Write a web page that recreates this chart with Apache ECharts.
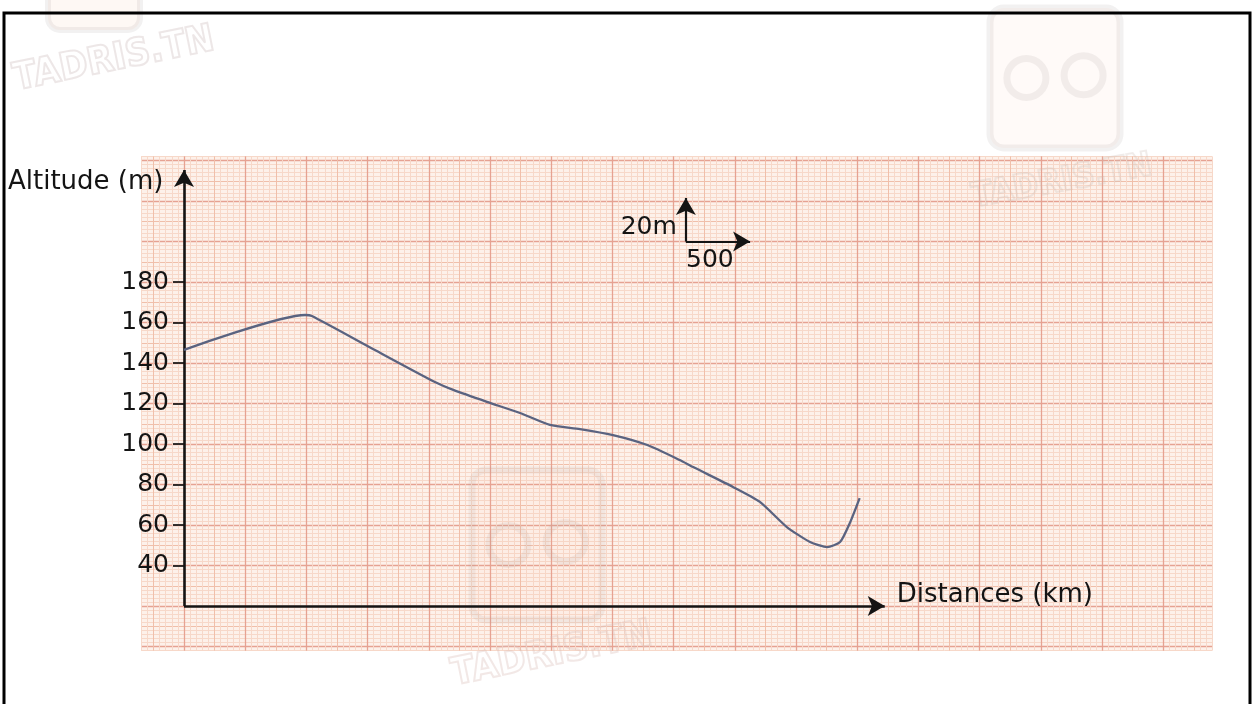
<!DOCTYPE html>
<html>
<head>
<meta charset="utf-8">
<style>
  html, body { margin: 0; padding: 0; background: #ffffff; }
  #chart { width: 1254px; height: 704px; }
</style>
<script src="https://cdn.jsdelivr.net/npm/echarts@6/dist/echarts.min.js"></script>
</head>
<body>
<div id="chart"></div>
<script>
// ---------------- data ----------------
const distances = [0, 990, 1045, 1560, 2050, 2200, 2475, 2745, 2990, 3235, 3505, 3785, 4050, 4160, 4485, 4705, 4925, 5115, 5255, 5360, 5440, 5520];
const altitudes = [146.5, 163.7, 163.2, 146.4, 130.6, 126.7, 120.8, 115.3, 109.4, 107.4, 104.4, 99.5, 92.1, 88.6, 78.8, 71.4, 59.0, 51.6, 49.1, 51.6, 61.0, 73.3];
const altitudeTicks = [40, 60, 80, 100, 120, 140, 160, 180];
const yAxisTitle = 'Altitude (m)';
const xAxisTitle = 'Distances (km)';
const scaleLabelY = '20m';
const scaleLabelX = '500';

// ---------------- layout ----------------
const ORIGIN_X = 184;      // pixel of distance 0
const ORIGIN_Y = 606;      // pixel of altitude 20
const BASE_ALT = 20;
const PX_PER_KM = 61.2 / 500;
const PX_PER_M = 40.5 / 20;
const FONT = 'DejaVu Sans';
const INK = '#141414';

function gridFor(xmin, xmax, ymin, ymax) {
  return {
    left: ORIGIN_X + xmin * PX_PER_KM,
    width: (xmax - xmin) * PX_PER_KM,
    top: ORIGIN_Y - (ymax - BASE_ALT) * PX_PER_M,
    height: (ymax - ymin) * PX_PER_M
  };
}

const PAPER = { xmin: -350, xmax: 8400, ymin: -2, ymax: 242 };
const C_PAPER = '#fdf1ea', C_MINOR = '#f7d8c9', C_MED = '#f0bfaa', C_MAJOR = '#e6a292';

const hiddenX = (g, a, b) => ({ type: 'value', gridIndex: g, min: a, max: b, show: false });
const hiddenY = (g, a, b) => ({ type: 'value', gridIndex: g, min: a, max: b, show: false });
const splitAxis = (g, a, b, step, color, w) => ({
  type: 'value', gridIndex: g, min: a, max: b, interval: step,
  axisLine: { show: false }, axisTick: { show: false }, axisLabel: { show: false },
  splitLine: { show: true, lineStyle: { color: color, width: w } }
});

const grids = [
  Object.assign(gridFor(PAPER.xmin, PAPER.xmax, PAPER.ymin, PAPER.ymax), { show: true, backgroundColor: C_PAPER, borderWidth: 0 }),
  gridFor(-250, 8250, PAPER.ymin, PAPER.ymax),
  gridFor(0, 8000, PAPER.ymin, PAPER.ymax),
  gridFor(PAPER.xmin, PAPER.xmax, 0, 240),
  gridFor(PAPER.xmin, PAPER.xmax, 0, 240),
  gridFor(0, 1000, altitudeTicks[0], altitudeTicks[altitudeTicks.length - 1])
];

const xAxes = [
  splitAxis(0, PAPER.xmin, PAPER.xmax, 50, C_MINOR, 1),
  splitAxis(1, -250, 8250, 250, C_MED, 1),
  splitAxis(2, 0, 8000, 500, C_MAJOR, 1.3),
  hiddenX(3, PAPER.xmin, PAPER.xmax),
  hiddenX(4, PAPER.xmin, PAPER.xmax),
  hiddenX(5, 0, 1000)
];
const yAxes = [
  splitAxis(0, PAPER.ymin, PAPER.ymax, 2, C_MINOR, 1),
  hiddenY(1, PAPER.ymin, PAPER.ymax),
  hiddenY(2, PAPER.ymin, PAPER.ymax),
  splitAxis(3, 0, 240, 10, C_MED, 1),
  splitAxis(4, 0, 240, 20, C_MAJOR, 1.3),
  {
    type: 'value', gridIndex: 5, min: altitudeTicks[0], max: altitudeTicks[altitudeTicks.length - 1], interval: 20,
    position: 'left',
    axisLine: { show: false },
    splitLine: { show: false },
    axisTick: { show: true, length: 11, lineStyle: { color: INK, width: 1.7 } },
    axisLabel: { show: true, margin: 15, color: INK, fontSize: 25, fontFamily: FONT }
  }
];

// annotation anchors (data coords)
const Y_ARROW_END = 235.3;
const X_ARROW_END = 5725;
const SCALE_ORIGIN = [4100, 200];
const SCALE_UP_END = 221.5;
const SCALE_RIGHT_END = 4625;

const curve = distances.map((d, i) => [d, altitudes[i]]);

const option = {
  animation: false,
  backgroundColor: '#ffffff',
  grid: grids,
  xAxis: xAxes,
  yAxis: yAxes,
  series: [{
    type: 'line',
    xAxisIndex: 0, yAxisIndex: 0,
    data: curve,
    smooth: 0.2,
    showSymbol: false,
    symbol: 'none',
    z: 5,
    lineStyle: { color: '#5a6380', width: 2.3 },
    markLine: {
      silent: true,
      symbol: ['none', 'arrow'],
      symbolSize: [15, 17],
      label: { show: false },
      lineStyle: { color: INK, width: 2.6, type: 'solid' },
      data: [
        [{ coord: [0, BASE_ALT] }, { coord: [0, Y_ARROW_END] }],
        [{ coord: [0, BASE_ALT] }, { coord: [X_ARROW_END, BASE_ALT] }],
        [{ coord: SCALE_ORIGIN, lineStyle: { width: 2.2, color: INK } }, { coord: [SCALE_ORIGIN[0], SCALE_UP_END] }],
        [{ coord: SCALE_ORIGIN, lineStyle: { width: 2.2, color: INK } }, { coord: [SCALE_RIGHT_END, SCALE_ORIGIN[1]] }]
      ]
    }
  }]
};

const chart = echarts.init(document.getElementById('chart'), null, { renderer: 'canvas' });
chart.setOption(option);

const px = p => chart.convertToPixel({ xAxisIndex: 0, yAxisIndex: 0 }, p);
const so = px(SCALE_ORIGIN);
const xEnd = px([X_ARROW_END, BASE_ALT]);
const yEnd = px([0, Y_ARROW_END]);

const txt = (x, y, text, align, size) => ({
  type: 'text', x: x, y: y, silent: true, z: 20,
  style: { text: text, fill: INK, fontSize: size, fontFamily: FONT, align: align, verticalAlign: 'middle' }
});

const wm = (x, y, rot, color, size) => ({
  type: 'text', x: x, y: y, rotation: rot, silent: true, z: 1,
  style: { text: 'TADRIS.TN', fill: 'none', stroke: color, lineWidth: 2, fontSize: size, fontWeight: 'bold', fontFamily: 'DejaVu Sans Condensed', align: 'center', verticalAlign: 'middle' }
});

const logo = (x, y, w, h, alpha) => ({
  type: 'group', x: x, y: y, silent: true, z: 1,
  children: [
    { type: 'rect', shape: { x: 0, y: 0, width: w, height: h, r: 14 }, style: { fill: 'rgba(248,190,150,' + (alpha * 0.6) + ')', stroke: 'rgba(150,140,140,' + alpha + ')', lineWidth: 7 } },
    { type: 'circle', shape: { cx: w * 0.28, cy: h * 0.5, r: w * 0.15 }, style: { fill: 'none', stroke: 'rgba(150,140,140,' + alpha + ')', lineWidth: 7 } },
    { type: 'circle', shape: { cx: w * 0.72, cy: h * 0.48, r: w * 0.15 }, style: { fill: 'none', stroke: 'rgba(150,140,140,' + alpha + ')', lineWidth: 7 } }
  ]
});

chart.setOption({
  graphic: [
    logo(990, 8, 130, 140, 0.12),
    logo(472, 470, 130, 150, 0.10),
    { type: 'rect', silent: true, z: 1, shape: { x: 48, y: -20, width: 92, height: 50, r: 12 }, style: { fill: 'rgba(248,190,150,0.10)', stroke: 'rgba(150,140,140,0.12)', lineWidth: 6 } },
    wm(114, 60, 0.2, 'rgba(200,180,180,0.32)', 38),
    wm(1062, 182, 0.18, 'rgba(200,185,180,0.28)', 34),
    wm(552, 655, 0.2, 'rgba(220,190,185,0.36)', 38),
    { type: 'rect', silent: true, z: 30, shape: { x: 4, y: 13, width: 1246, height: 700 }, style: { fill: 'none', stroke: '#000', lineWidth: 3 } },
    txt(8, yEnd[1] + 12, yAxisTitle, 'left', 26),
    txt(xEnd[0] + 12, xEnd[1] - 11, xAxisTitle, 'left', 26),
    txt(so[0] - 9, so[1] - 14, scaleLabelY, 'right', 25),
    txt(so[0] + 24, so[1] + 19, scaleLabelX, 'center', 25)
  ]
});
</script>
</body>
</html>
